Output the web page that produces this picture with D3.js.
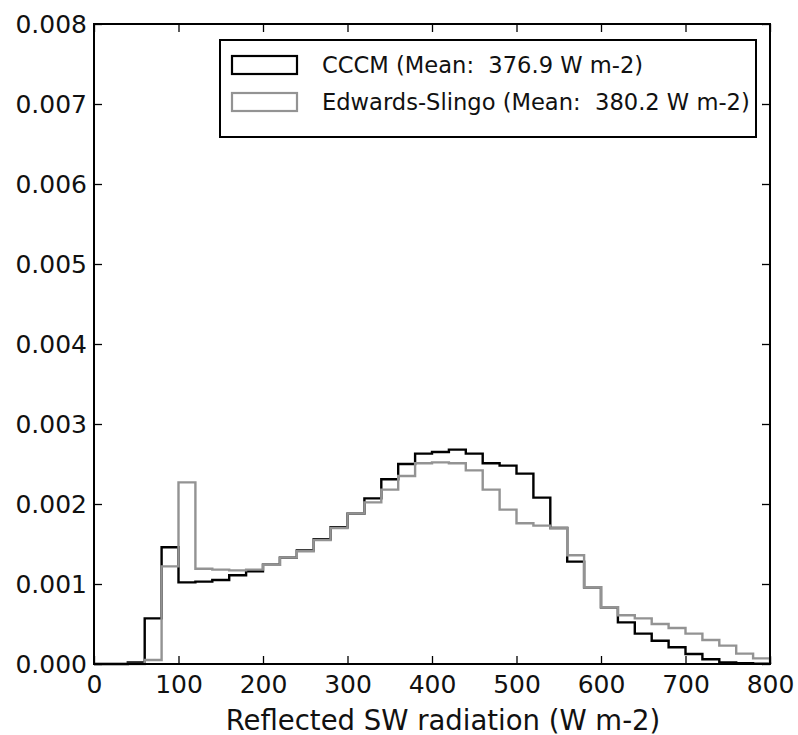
<!DOCTYPE html>
<html>
<head>
<meta charset="utf-8">
<script src="https://cdn.jsdelivr.net/npm/d3@7"></script>
<style>
  html, body { margin: 0; padding: 0; background: #fff; }
  svg { display: block; font-family: "DejaVu Sans", sans-serif; }
  text { white-space: pre; }
</style>
</head>
<body>
<svg id="chart" width="798" height="735"></svg>
<script>
// Histogram bins: 20 W m-2 wide, from 0 to 800
const binEdges = d3.range(0, 801, 20);

// Normalised frequency per bin (one value per bin, 40 bins)
const cccm = [
  0, 0, 0.00002, 0.00057, 0.00146, 0.00102, 0.00103, 0.00105, 0.00111, 0.00116,
  0.00124, 0.00133, 0.00142, 0.00156, 0.00171, 0.00188, 0.00207, 0.00231, 0.00250, 0.00263,
  0.00265, 0.00268, 0.00263, 0.00251, 0.00248, 0.00238, 0.00208, 0.00170, 0.00128, 0.00096,
  0.00071, 0.00052, 0.00038, 0.00029, 0.00021, 0.000125, 0.00006, 0.00002, 0.00001, 0.000005
];
const edwardsSlingo = [
  0, 0, 0, 0.00005, 0.00122, 0.00227, 0.00119, 0.00118, 0.00117, 0.00118,
  0.00124, 0.00133, 0.00141, 0.00155, 0.00170, 0.00188, 0.00202, 0.00218, 0.00235, 0.00251,
  0.00252, 0.00251, 0.00242, 0.00218, 0.00193, 0.00176, 0.00173, 0.00170, 0.00136, 0.00096,
  0.00071, 0.00061, 0.00057, 0.00050, 0.00045, 0.00038, 0.00030, 0.00023, 0.00013, 0.00007
];

const seriesNames = ["CCCM (Mean:  376.9 W m-2)", "Edwards-Slingo (Mean:  380.2 W m-2)"];
const seriesColors = ["#000000", "#939393"];

const xTicks = d3.range(0, 801, 100);
const yTicks = d3.range(0, 0.0081, 0.001);

const svg = d3.select("#chart");
const margin = { left: 94, top: 24, right: 28, bottom: 71 };
const W = 798, H = 735;
const x = d3.scaleLinear().domain([0, 800]).range([margin.left, W - margin.right]);
const y = d3.scaleLinear().domain([0, 0.008]).range([H - margin.bottom, margin.top]);

const tickLen = 8;
const fontSize = 25;

// Step outline of a histogram (matplotlib "step" style)
function stepPath(values) {
  const pts = [[binEdges[0], 0]];
  values.forEach((v, i) => {
    pts.push([binEdges[i], v]);
    pts.push([binEdges[i + 1], v]);
  });
  pts.push([binEdges[binEdges.length - 1], 0]);
  return d3.line().x(d => x(d[0])).y(d => y(d[1]))(pts);
}

const plot = svg.append("g");
[cccm, edwardsSlingo].forEach((vals, i) => {
  plot.append("path")
    .attr("d", stepPath(vals))
    .attr("fill", "none")
    .attr("stroke", seriesColors[i])
    .attr("stroke-width", 2.4)
    .attr("stroke-linejoin", "miter");
});

// Axes with inward ticks on all four sides
const axBottom = d3.axisBottom(x).tickValues(xTicks).tickSizeInner(-tickLen).tickSizeOuter(0).tickPadding(11);
const axTop = d3.axisTop(x).tickValues(xTicks).tickSizeInner(-tickLen).tickSizeOuter(0).tickFormat("");
const axLeft = d3.axisLeft(y).tickValues(yTicks).tickSizeInner(-tickLen).tickSizeOuter(0)
  .tickPadding(7).tickFormat(d3.format(".3f"));
const axRight = d3.axisRight(y).tickValues(yTicks).tickSizeInner(-tickLen).tickSizeOuter(0).tickFormat("");

function styleAxis(g) {
  g.select(".domain").remove();
  g.selectAll(".tick line").attr("stroke", "#000").attr("stroke-width", 1.3);
  g.selectAll(".tick text").attr("fill", "#111").style("font-size", fontSize + "px")
    .style("font-family", "'DejaVu Sans', sans-serif");
}

svg.append("g").attr("transform", `translate(0,${y(0)})`).call(axBottom).call(styleAxis);
svg.append("g").attr("transform", `translate(0,${y(0.008)})`).call(axTop).call(styleAxis);
svg.append("g").attr("transform", `translate(${x(0)},0)`).call(axLeft).call(styleAxis);
svg.append("g").attr("transform", `translate(${x(800)},0)`).call(axRight).call(styleAxis);

// Frame
svg.append("rect")
  .attr("x", x(0)).attr("y", y(0.008))
  .attr("width", x(800) - x(0)).attr("height", y(0) - y(0.008))
  .attr("fill", "none").attr("stroke", "#000").attr("stroke-width", 2);

// X axis title
svg.append("text")
  .attr("x", 443).attr("y", 730)
  .attr("text-anchor", "middle")
  .style("font-size", "27.5px")
  .attr("fill", "#111")
  .text("Reflected SW radiation (W m-2)");

// Legend
const legend = svg.append("g");
legend.append("rect")
  .attr("x", 220).attr("y", 40).attr("width", 536).attr("height", 97)
  .attr("fill", "#fff").attr("stroke", "#000").attr("stroke-width", 2);
seriesNames.forEach((name, i) => {
  const cy = 65 + i * 37;
  legend.append("rect")
    .attr("x", 232).attr("y", cy - 9).attr("width", 65).attr("height", 18)
    .attr("fill", "#fff").attr("stroke", seriesColors[i]).attr("stroke-width", 2.2);
  legend.append("text")
    .attr("x", 322).attr("y", cy + 8)
    .style("font-size", "22.6px")
    .attr("fill", "#111")
    .text(name);
});
</script>
</body>
</html>
